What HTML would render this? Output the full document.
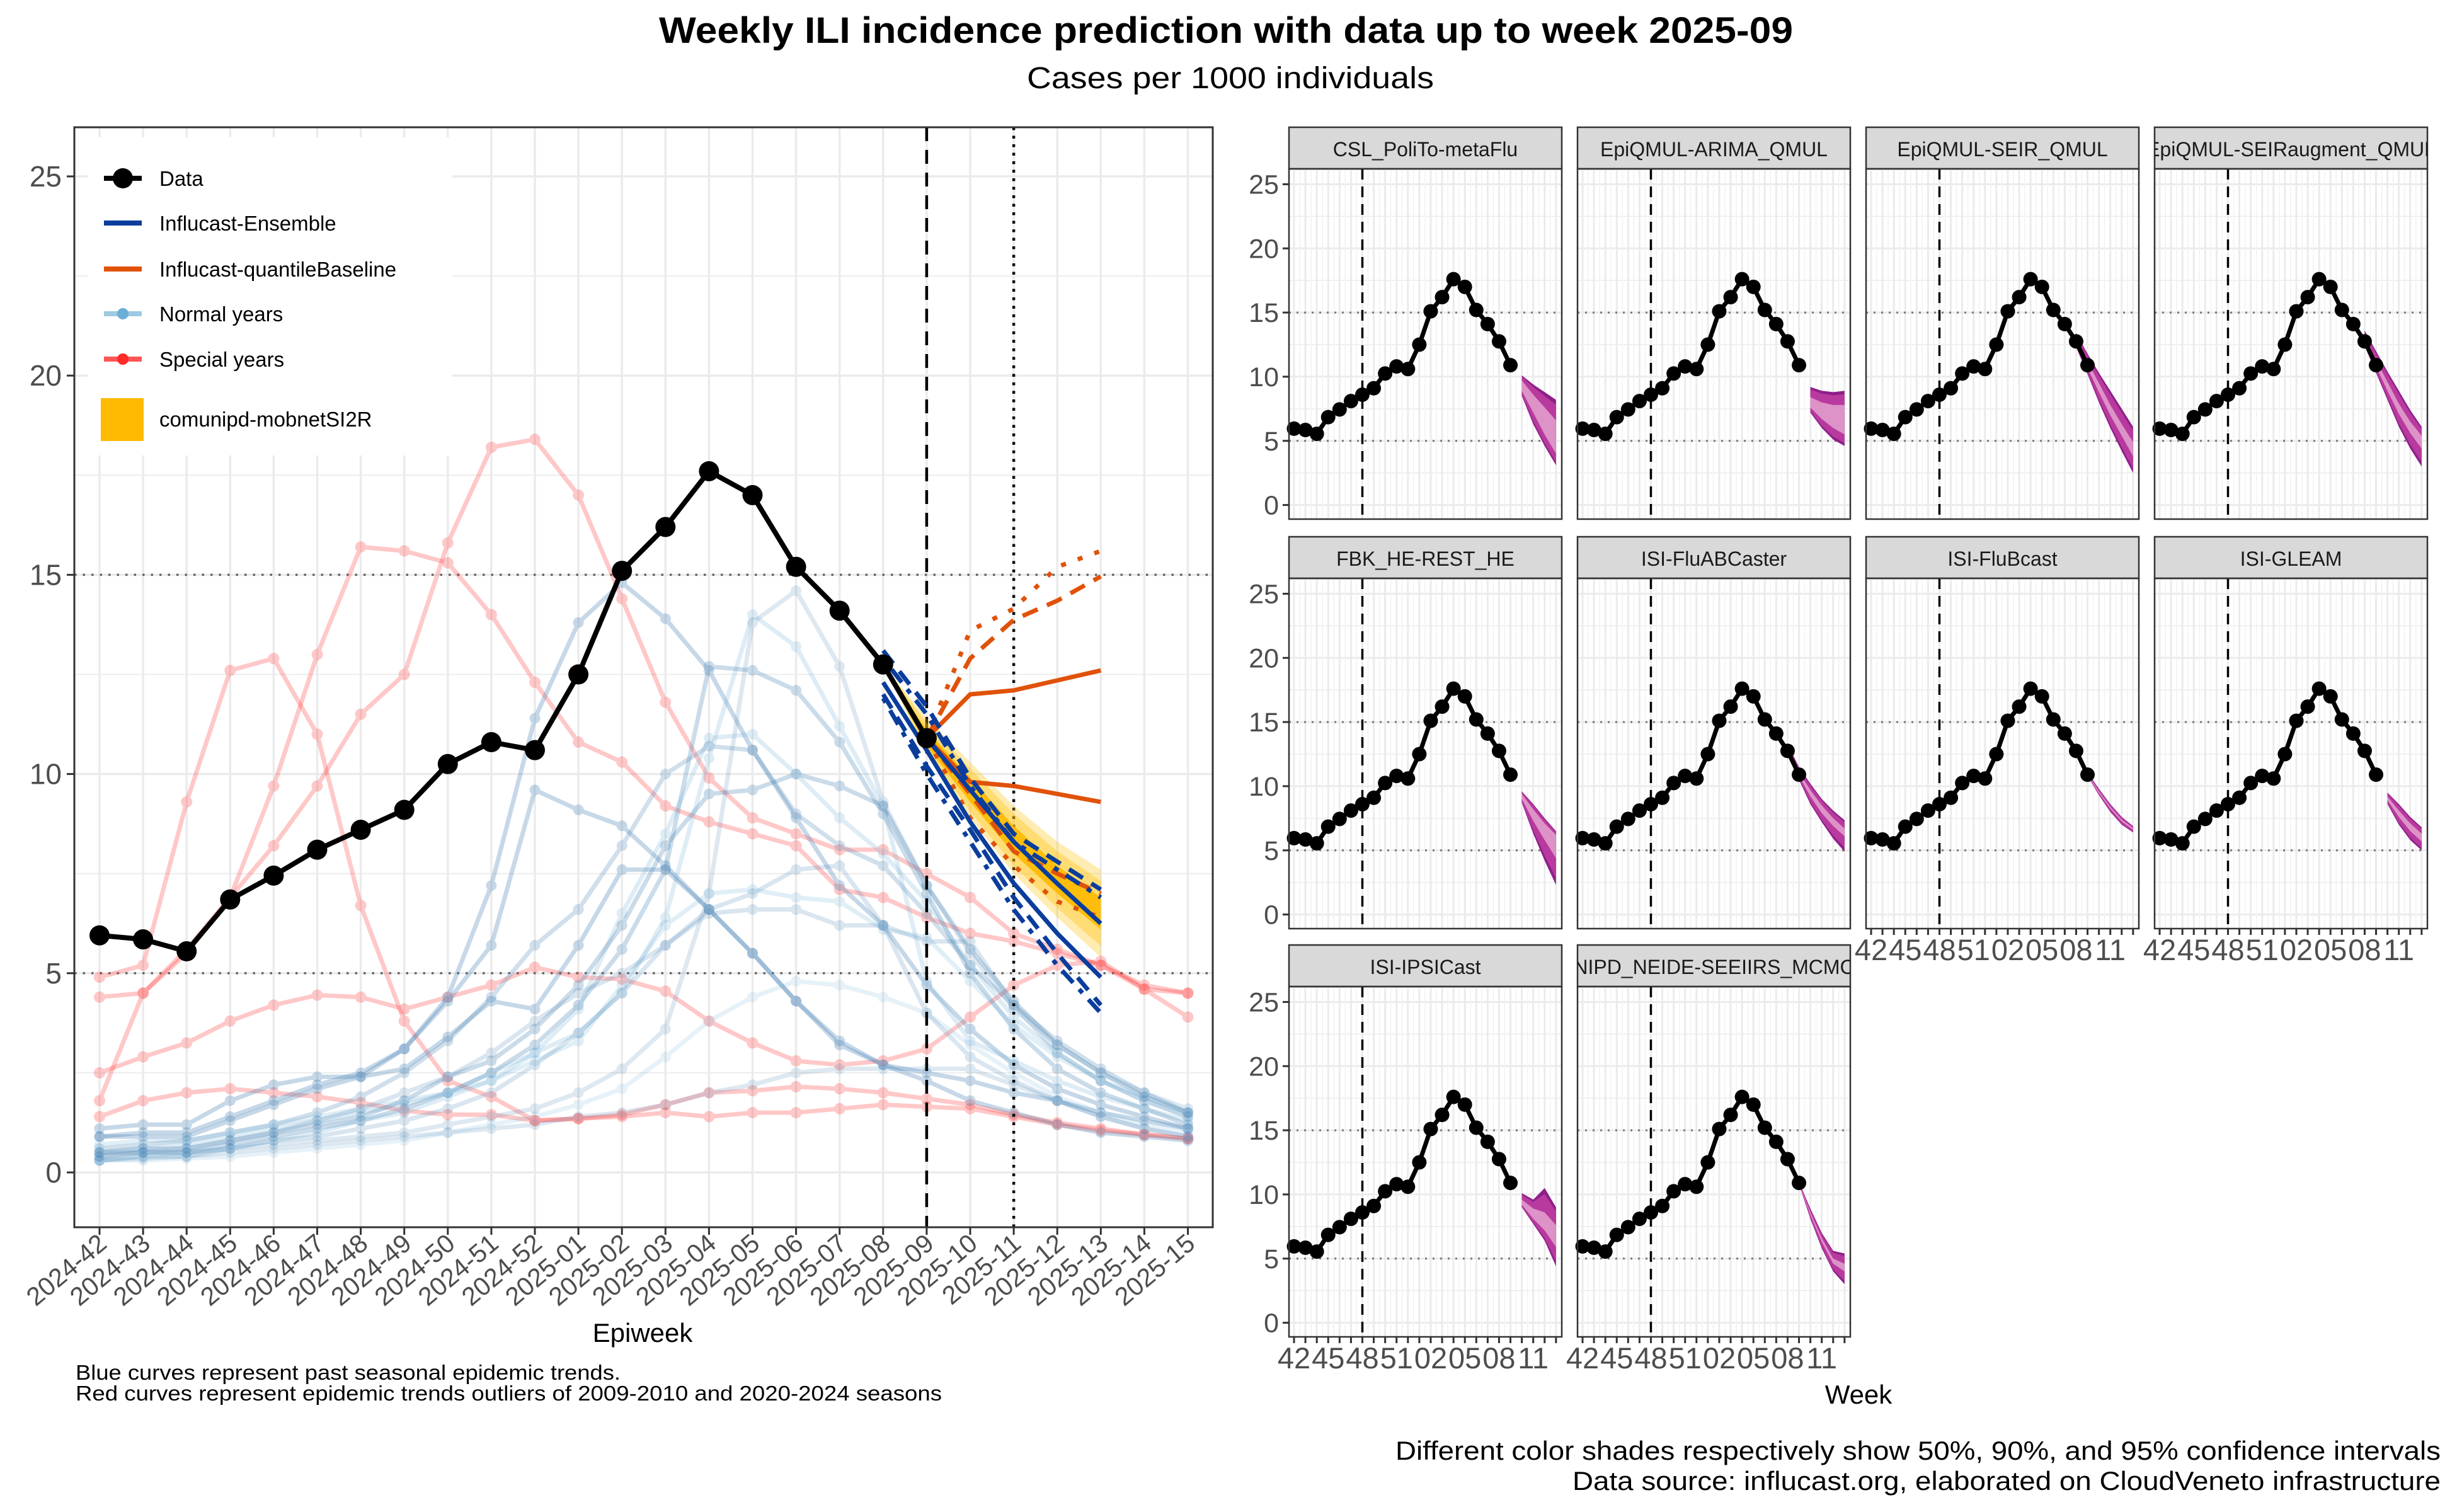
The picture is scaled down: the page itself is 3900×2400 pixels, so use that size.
<!DOCTYPE html>
<html><head><meta charset="utf-8"><title>Weekly ILI incidence prediction</title>
<style>html,body{margin:0;padding:0;background:#fff}svg{display:block;font-family:"Liberation Sans",sans-serif}</style>
</head><body>
<svg id="chart" xmlns="http://www.w3.org/2000/svg" width="3900" height="2400" viewBox="0 0 3900 2400">
<rect x="0" y="0" width="3900" height="2400" fill="#fff"/>
<text x="1946" y="68" text-anchor="middle" font-size="58" font-weight="bold" textLength="1800" lengthAdjust="spacingAndGlyphs">Weekly ILI incidence prediction with data up to week 2025-09</text>
<text x="1953" y="140" text-anchor="middle" font-size="48" textLength="646" lengthAdjust="spacingAndGlyphs">Cases per 1000 individuals</text>
<g id="main"></g>
<g id="facets"></g>
<text x="1020" y="2130" text-anchor="middle" font-size="42">Epiweek</text>
<text x="120" y="2190" font-size="33" textLength="865" lengthAdjust="spacingAndGlyphs">Blue curves represent past seasonal epidemic trends.</text>
<text x="120" y="2223" font-size="33" textLength="1375" lengthAdjust="spacingAndGlyphs">Red curves represent epidemic trends outliers of 2009-2010 and 2020-2024 seasons</text>
<text x="2950" y="2228" text-anchor="middle" font-size="42">Week</text>
<text x="3874" y="2317" text-anchor="end" font-size="42" textLength="1659" lengthAdjust="spacingAndGlyphs">Different color shades respectively show 50%, 90%, and 95% confidence intervals</text>
<text x="3874" y="2365" text-anchor="end" font-size="42" textLength="1378" lengthAdjust="spacingAndGlyphs">Data source: influcast.org, elaborated on CloudVeneto infrastructure</text>
</svg>
<script>
// ---------- data ----------
const weeks = ["2024-42","2024-43","2024-44","2024-45","2024-46","2024-47","2024-48","2024-49","2024-50","2024-51","2024-52","2025-01","2025-02","2025-03","2025-04","2025-05","2025-06","2025-07","2025-08","2025-09","2025-10","2025-11","2025-12","2025-13","2025-14","2025-15"];
const yTicks = [0,5,10,15,20,25];
const observed = [5.95,5.85,5.55,6.85,7.45,8.1,8.6,9.1,10.25,10.8,10.6,12.5,15.1,16.2,17.6,17.0,15.2,14.1,12.75,10.9];
const specialYears = [
 [4.4,4.5,5.6,6.9,8.2,9.7,11.5,12.5,15.8,18.2,18.4,17.0,14.4,11.8,9.9,8.9,8.5,8.1,8.1,7.5,6.9,6.0,5.6,5.2,4.7,4.5],
 [4.9,5.2,9.3,12.6,12.9,11.0,6.7,3.8,2.3,1.9,1.3,1.35,1.4,1.5,1.4,1.5,1.5,1.6,1.7,1.65,1.6,1.4,1.2,1.05,0.95,0.85],
 [1.8,4.5,5.5,6.9,9.7,13.0,15.7,15.6,15.3,14.0,12.3,10.8,10.3,9.2,8.8,8.5,8.2,7.1,6.9,6.4,6.0,5.8,5.5,5.2,4.6,4.5],
 [2.5,2.9,3.25,3.8,4.2,4.45,4.4,4.1,4.4,4.7,5.15,4.9,4.85,4.55,3.8,3.25,2.8,2.7,2.8,3.1,3.9,4.7,5.2,5.3,4.6,3.9],
 [1.4,1.8,2.0,2.1,2.0,1.9,1.75,1.55,1.45,1.45,1.3,1.35,1.45,1.7,2.0,2.05,2.15,2.1,2.0,1.85,1.7,1.45,1.25,1.1,0.95,0.85]
];
const normalYears = [
 [1.1,1.2,1.2,1.8,2.2,2.4,2.4,3.1,4.4,7.2,11.4,13.8,14.8,13.9,12.6,10.6,8.9,7.2,6.2,4.7,3.6,2.7,2.1,1.7,1.4,1.1],
 [0.9,1.0,1.0,1.4,1.8,2.2,2.5,3.1,4.3,5.7,9.6,9.1,8.7,7.7,6.6,5.5,4.3,3.2,2.7,2.3,1.8,1.5,1.2,1.0,0.9,0.8],
 [0.5,0.6,0.7,0.9,1.1,1.3,1.5,1.7,2.0,2.5,3.0,3.5,4.5,6.4,10.4,14.0,13.2,11.2,9.2,4.8,3.3,2.8,2.3,1.9,1.6,1.3],
 [0.3,0.4,0.4,0.6,0.7,0.8,0.9,1.0,1.2,1.4,1.6,2.0,2.6,3.6,7.0,13.8,14.6,12.7,9.3,7.2,5.5,4.1,3.2,2.5,2.0,1.6],
 [0.4,0.5,0.5,0.7,0.9,1.1,1.3,1.6,2.0,2.5,3.2,4.2,5.6,7.6,12.7,12.6,12.1,10.8,9.0,7.0,5.0,3.6,2.6,2.0,1.6,1.2],
 [0.3,0.4,0.5,0.6,0.8,1.0,1.3,1.5,1.9,2.3,3.0,4.1,6.5,8.5,10.9,11.0,10.0,8.9,8.0,6.8,5.2,3.9,3.0,2.3,1.8,1.4],
 [0.6,0.7,0.8,1.0,1.2,1.5,1.9,2.5,3.3,4.4,5.7,6.6,8.2,10.0,10.7,10.6,9.0,8.2,7.7,6.5,5.2,4.2,3.3,2.6,2.0,1.5],
 [0.9,0.9,0.9,1.3,1.7,2.1,2.4,2.6,3.4,4.3,4.1,5.7,7.6,7.6,6.6,5.5,4.3,3.3,2.7,2.5,2.3,2.0,1.8,1.5,1.3,1.1],
 [0.7,0.8,0.8,1.0,1.2,1.4,1.6,1.8,2.0,2.3,2.8,3.3,4.7,6.2,7.0,7.1,6.9,6.8,6.1,5.9,4.8,3.7,2.9,2.3,1.9,1.5],
 [0.5,0.5,0.6,0.8,1.0,1.3,1.6,2.0,2.4,3.0,3.8,4.5,5.0,5.7,6.5,6.6,6.6,6.2,6.2,5.8,5.8,4.2,3.0,2.3,1.8,1.4],
 [0.3,0.35,0.4,0.5,0.6,0.7,0.8,0.9,1.0,1.1,1.2,1.4,1.5,1.7,2.0,2.2,2.5,2.6,2.6,2.6,2.6,2.2,1.8,1.4,1.1,0.9],
 [0.3,0.3,0.35,0.4,0.5,0.6,0.7,0.8,1.0,1.2,1.4,1.7,2.1,2.9,3.8,4.4,4.8,4.7,4.4,4.0,3.2,2.5,1.9,1.5,1.2,1.0],
 [0.4,0.5,0.5,0.6,0.8,0.9,1.1,1.3,1.6,2.0,2.7,3.5,4.5,5.7,6.6,7.0,7.6,7.7,6.2,4.0,2.9,2.3,1.8,1.4,1.1,0.9],
 [0.5,0.6,0.6,0.8,1.0,1.2,1.4,1.8,2.4,2.8,3.6,4.7,6.2,8.2,9.5,9.6,10.0,9.7,9.2,7.2,5.6,4.3,3.2,2.5,1.9,1.5]
];
const normalAlpha = [0.3,0.3,0.22,0.18,0.28,0.22,0.25,0.3,0.2,0.2,0.18,0.16,0.2,0.28];
const comuniStart = 18;
const comuniHi95 = [12.75,11.4,10.3,9.2,8.3,7.6];
const comuniHi50 = [12.75,11.1,9.9,8.7,7.7,6.9];
const comuniLo50 = [12.75,10.7,9.3,8.0,7.0,6.1];
const comuniLo95 = [12.75,10.5,8.9,7.5,6.4,5.4];
const ensStart = 18;
const ensMedian = [12.75,10.9,9.6,8.3,7.25,6.25];
const ensLowerSolid = [12.3,10.6,8.8,7.26,6.0,4.9];
const ensUpperDash = [13.1,11.7,9.9,8.5,7.8,7.1];
const ensLowerDash = [12.0,10.2,8.6,6.9,5.5,4.2];
const ensUpperDotDash = [12.9,11.5,9.7,8.3,7.6,6.9];
const ensLowerDotDash = [11.9,10.0,8.3,6.6,5.2,4.0];
const qbStart = 19;
const qbUpper = [10.9,12.0,12.1,12.35,12.6];
const qbLower = [10.9,9.8,9.7,9.5,9.3];
const qbUpperDash = [10.9,12.9,13.87,14.35,14.96];
const qbLowerDash = [10.9,9.5,8.06,7.5,7.0];
const qbUpperDot = [10.9,13.6,14.15,15.2,15.6];
const qbLowerDot = [10.9,8.9,7.7,6.8,6.4];
const facetNames = ["CSL_PoliTo-metaFlu","EpiQMUL-ARIMA_QMUL","EpiQMUL-SEIR_QMUL","EpiQMUL-SEIRaugment_QMUL","FBK_HE-REST_HE","ISI-FluABCaster","ISI-FluBcast","ISI-GLEAM","ISI-IPSICast","NIPD_NEIDE-SEEIIRS_MCMC"];
const facetStart = [20,20,18,18,20,18,19,20,20,19];
const facetHi95 = [[10.1,9.4,8.8,8.2],[9.2,8.9,8.8,8.9],[13.4,11.8,10.3,8.9,7.5,6.1],[13.6,12.0,10.4,8.9,7.4,6.1],[9.6,8.6,7.5,6.5],[13.3,11.5,10.2,9.0,8.1,7.35],[11.1,9.8,8.6,7.6,6.9],[9.5,8.6,7.6,6.8],[10.1,9.6,10.5,9.0],[11.0,8.9,7.0,5.6,5.4]];
const facetHi50 = [[9.7,8.6,7.6,6.6],[8.4,8.0,7.8,7.8],[13.0,11.2,9.5,7.8,6.3,4.9],[13.1,11.3,9.6,7.9,6.5,5.4],[9.4,8.2,7.1,6.2],[13.0,11.1,9.7,8.5,7.5,6.7],[10.95,9.6,8.4,7.4,6.75],[9.2,8.1,7.1,6.3],[9.6,8.9,8.6,7.6],[10.9,8.6,6.6,5.0,4.6]];
const facetLo50 = [[8.9,7.2,5.5,4.0],[7.6,6.7,6.0,5.5],[12.6,10.7,8.8,7.0,5.4,3.8],[12.7,10.8,8.9,7.1,5.6,4.4],[9.0,7.3,5.8,4.4],[12.7,10.8,9.2,7.9,6.9,6.1],[10.85,9.45,8.25,7.25,6.6],[8.9,7.6,6.5,5.7],[9.2,8.1,7.2,5.9],[10.85,8.4,6.3,4.6,4.0]];
const facetLo95 = [[8.5,6.3,4.6,3.1],[7.2,6.0,5.1,4.6],[12.3,10.2,8.0,6.0,4.2,2.5],[12.4,10.3,8.2,6.1,4.4,3.0],[8.7,6.3,4.2,2.3],[12.5,10.5,8.6,7.2,5.9,4.9],[10.8,9.3,8.0,7.0,6.4],[8.6,7.0,5.8,5.0],[9.0,7.7,6.4,4.4],[10.8,8.1,5.8,4.0,3.0]];
const facetTickLabels = ["42","45","48","51","02","05","08","11"];
const facetTickIdx = [0,3,6,9,12,15,18,21];

// ---------- helpers ----------
const NS = "http://www.w3.org/2000/svg";
function mk(tag, attrs, parent){ const e = document.createElementNS(NS, tag); for (const k in attrs) e.setAttribute(k, attrs[k]); parent.appendChild(e); return e; }
const main = document.getElementById('main');
const facets = document.getElementById('facets');

const PL = 118, PR = 1925, PT = 202, PB = 1948;
const X0 = 158, XSTEP = 69.1;
const Y0 = 1861, YUNIT = 63.24;
const sx = i => X0 + i * XSTEP;
const sy = v => Y0 - v * YUNIT;
function pathOf(vals, start, fx, fy){ return vals.map((v,k)=> (k?'L':'M') + fx(start+k).toFixed(1) + ',' + fy(v).toFixed(1)).join(''); }
function bandOf(hi, lo, start, fx, fy){
  let d = hi.map((v,k)=>(k?'L':'M')+fx(start+k).toFixed(1)+','+fy(v).toFixed(1)).join('');
  for (let k = lo.length-1; k>=0; k--) d += 'L'+fx(start+k).toFixed(1)+','+fy(lo[k]).toFixed(1);
  return d + 'Z';
}

for (let v = 0; v <= 25; v += 2.5) {
  const g = mk('line',{x1:PL,x2:PR,y1:sy(v),y2:sy(v),stroke:'#ebebeb','stroke-width': (v%5===0)?3.5:1.8},main);
   
}
weeks.forEach((w,i)=>{
  const g = mk('line',{x1:sx(i),x2:sx(i),y1:PT,y2:PB,stroke:'#ebebeb','stroke-width':3.5},main);
   
});
[5,15].forEach(v=>{
  const l = mk('line',{x1:PL,x2:PR,y1:sy(v),y2:sy(v),stroke:'#666','stroke-width':3.5,'stroke-dasharray':'3.5 10'},main);
   
});

specialYears.forEach((s,j)=>{
  const g = mk('g',{opacity:0.25},main);
   
  mk('path',{d:pathOf(s,0,sx,sy),fill:'none',stroke:'#ff2a2a','stroke-width':7,'stroke-linejoin':'round'},g);
  s.forEach((v,i)=>{ const c = mk('circle',{cx:sx(i),cy:sy(v),r:9,fill:'#ff2a2a'},g);
      });
});
normalYears.forEach((s,j)=>{
  const col = (j%3===2)?'#6baed6':'#4682b4';
  const g = mk('g',{opacity:normalAlpha[j]},main);
   
  mk('path',{d:pathOf(s,0,sx,sy),fill:'none',stroke:col,'stroke-width':7,'stroke-linejoin':'round'},g);
  s.forEach((v,i)=>{ const c = mk('circle',{cx:sx(i),cy:sy(v),r:8.5,fill:col},g);
      });
});

let vl = mk('line',{x1:sx(19),x2:sx(19),y1:PT,y2:PB,stroke:'#000','stroke-width':4.5,'stroke-dasharray':'22 14'},main);
 
vl = mk('line',{x1:sx(21),x2:sx(21),y1:PT,y2:PB,stroke:'#000','stroke-width':4.5,'stroke-dasharray':'4.5 9'},main);
 

let b = mk('path',{d:bandOf(comuniHi95,comuniLo95,comuniStart,sx,sy),fill:'#ffc000',opacity:0.3},main);
 
b = mk('path',{d:bandOf(comuniHi95.map((v,k)=>v-(v-comuniHi50[k])*0.4),comuniLo95.map((v,k)=>v+(comuniLo50[k]-v)*0.4),comuniStart,sx,sy),fill:'#ffc000',opacity:0.35},main);
 
b = mk('path',{d:bandOf(comuniHi50,comuniLo50,comuniStart,sx,sy),fill:'#ffb900',opacity:0.9},main);
 

const OR = '#e0520a';
[[qbUpper,null,'qb-upper'],[qbLower,null,'qb-lower'],[qbUpperDash,'26 16','qb-upper-dashed'],[qbLowerDash,'26 16','qb-lower-dashed'],[qbUpperDot,'8 20','qb-upper-dotted'],[qbLowerDot,'8 20','qb-lower-dotted']].forEach(([s,da,nm])=>{
  const a = {d:pathOf(s,qbStart,sx,sy),fill:'none',stroke:OR,'stroke-width':7};
  if (da) a['stroke-dasharray']=da;
  const p = mk('path',a,main);  
});
const BL = '#0a3d9c';
[[ensMedian,null,'ensemble-median'],[ensLowerSolid,null,'ensemble-lower'],[ensUpperDash,'26 16','ensemble-upper-dashed'],[ensLowerDash,'26 16','ensemble-lower-dashed'],[ensUpperDotDash,'8 14 26 14','ensemble-upper-dotdash'],[ensLowerDotDash,'8 14 26 14','ensemble-lower-dotdash']].forEach(([s,da,nm])=>{
  const a = {d:pathOf(s,ensStart,sx,sy),fill:'none',stroke:BL,'stroke-width':7};
  if (da) a['stroke-dasharray']=da;
  const p = mk('path',a,main);  
});

let dl = mk('path',{d:pathOf(observed,0,sx,sy),fill:'none',stroke:'#000','stroke-width':8,'stroke-linejoin':'round'},main);
 
observed.forEach((v,i)=>{ const c = mk('circle',{cx:sx(i),cy:sy(v),r:16,fill:'#000'},main);
    });

const lg = mk('g',{},main);
 
mk('rect',{x:140,y:218,width:578,height:505,fill:'#fff'},lg);
const legendItems = [["Data",'data'],["Influcast-Ensemble",'ens'],["Influcast-quantileBaseline",'qb'],["Normal years",'normal'],["Special years",'special'],["comunipd-mobnetSI2R",'comuni']];
const legendY = [283,354,427,498,570,665];
legendItems.forEach(([label,kind],k)=>{
  const g = mk('g',{},lg);
   
  const y = legendY[k];
  if (kind==='data'){ mk('line',{x1:165,x2:225,y1:y,y2:y,stroke:'#000','stroke-width':8},g); mk('circle',{cx:195,cy:y,r:16,fill:'#000'},g); }
  else if (kind==='ens'){ mk('line',{x1:165,x2:225,y1:y,y2:y,stroke:BL,'stroke-width':8},g); }
  else if (kind==='qb'){ mk('line',{x1:165,x2:225,y1:y,y2:y,stroke:OR,'stroke-width':8},g); }
  else if (kind==='normal'){ mk('line',{x1:165,x2:225,y1:y,y2:y,stroke:'#9ecae1','stroke-width':8},g); mk('circle',{cx:195,cy:y,r:9,fill:'#6baed6'},g); }
  else if (kind==='special'){ mk('line',{x1:165,x2:225,y1:y,y2:y,stroke:'#ff5555','stroke-width':8},g); mk('circle',{cx:195,cy:y,r:9,fill:'#ff2a2a'},g); }
  else { mk('rect',{x:160,y:y-33,width:68,height:68,fill:'#ffb900'},g); }
  const t = mk('text',{x:253,y:y+12,'font-size':33,fill:'#000'},g); t.textContent = label;
});

mk('rect',{x:PL,y:PT,width:PR-PL,height:PB-PT,fill:'none',stroke:'#333','stroke-width':3},main);
yTicks.forEach(v=>{
  const t = mk('line',{x1:PL-12,x2:PL,y1:sy(v),y2:sy(v),stroke:'#333','stroke-width':3},main);
   
  const l = mk('text',{x:PL-20,y:sy(v)+16,'text-anchor':'end','font-size':46,fill:'#4d4d4d'},main);
    l.textContent = v;
});
weeks.forEach((w,i)=>{
  const t = mk('line',{x1:sx(i),x2:sx(i),y1:PB,y2:PB+12,stroke:'#333','stroke-width':3},main);
   
  const l = mk('text',{x:0,y:0,'text-anchor':'end','font-size':41,fill:'#4d4d4d',transform:`translate(${sx(i)+14},${PB+30}) rotate(-40)`},main);
    l.textContent = w;
});

// ---------- facets ----------
const colLeft = [2046,2504,2962,3420];
const rowTop = [202,852,1500];
const FW = 433, SH = 66, FH = 556;
const FYMIN = -1.1, FYMAX = 26.2;
facetNames.forEach((name,f)=>{
  const r = Math.floor(f/4), c = f%4;
  const L = colLeft[c], T = rowTop[r]+SH, B = T+FH, R = L+FW;
  const fx = i => L + 8 + i*18.08;
  const fy = v => B - (v-FYMIN)/(FYMAX-FYMIN)*FH;
  const g = mk('g',{},facets);
   
  const cp = mk('clipPath',{id:'sc'+f},g); mk('rect',{x:L,y:rowTop[r],width:FW,height:SH},cp);
  mk('rect',{x:L,y:rowTop[r],width:FW,height:SH,fill:'#d9d9d9',stroke:'#333','stroke-width':2.5},g);
  const st = mk('text',{x:L+FW/2,y:rowTop[r]+46,'text-anchor':'middle','font-size':32,fill:'#1a1a1a','clip-path':`url(#sc${f})`},g);
    st.textContent = name;
  for (let v=0; v<=25; v+=2.5) mk('line',{x1:L,x2:R,y1:fy(v),y2:fy(v),stroke:'#ebebeb','stroke-width':(v%5===0)?3:1.5},g);
  for (let i=0;i<24;i++){ mk('line',{x1:fx(i),x2:fx(i),y1:T,y2:B,stroke:'#ebebeb','stroke-width':3},g);
    mk('line',{x1:fx(i)+9,x2:fx(i)+9,y1:T,y2:B,stroke:'#f2f2f2','stroke-width':1.5},g); }
  [5,15].forEach(v=> mk('line',{x1:L,x2:R,y1:fy(v),y2:fy(v),stroke:'#777','stroke-width':3,'stroke-dasharray':'3 9'},g));
  mk('line',{x1:fx(6),x2:fx(6),y1:T,y2:B,stroke:'#000','stroke-width':3.5,'stroke-dasharray':'17 11'},g);
  const s = facetStart[f], h95 = facetHi95[f], h50 = facetHi50[f], l50 = facetLo50[f], l95 = facetLo95[f];
  const h90 = h95.map((v,k)=>v-(v-h50[k])*0.25), l90 = l95.map((v,k)=>v+(l50[k]-v)*0.25);
  let p = mk('path',{d:bandOf(h95,l95,s,fx,fy),fill:'#8e1f8a'},g);  
  p = mk('path',{d:bandOf(h90,l90,s,fx,fy),fill:'#b83a9e'},g);  
  p = mk('path',{d:bandOf(h50,l50,s,fx,fy),fill:'#dd92c8'},g);  
  mk('path',{d:pathOf(observed,0,fx,fy),fill:'none',stroke:'#000','stroke-width':7,'stroke-linejoin':'round'},g);
  observed.forEach((v,i)=>{ const cc = mk('circle',{cx:fx(i),cy:fy(v),r:11.5,fill:'#000'},g);
      });
  mk('rect',{x:L,y:T,width:FW,height:FH,fill:'none',stroke:'#333','stroke-width':2.5},g);
  if (c===0){
    yTicks.forEach(v=>{ mk('line',{x1:L-10,x2:L,y1:fy(v),y2:fy(v),stroke:'#333','stroke-width':3},g);
      const t = mk('text',{x:L-16,y:fy(v)+15,'text-anchor':'end','font-size':43,fill:'#4d4d4d'},g);
        t.textContent = v; });
  }
  const bottom = (r===2) || (r===1 && c>=2);
  if (bottom){
    for (let i=0;i<24;i++) mk('line',{x1:fx(i),x2:fx(i),y1:B,y2:B+10,stroke:'#333','stroke-width':3},g);
    facetTickLabels.forEach((lab,k)=>{
      const t = mk('text',{x:fx(facetTickIdx[k]),y:B+50,'text-anchor':'middle','font-size':47,fill:'#4d4d4d'},g);
        t.textContent = lab; });
  }
});
</script>
</body></html>
